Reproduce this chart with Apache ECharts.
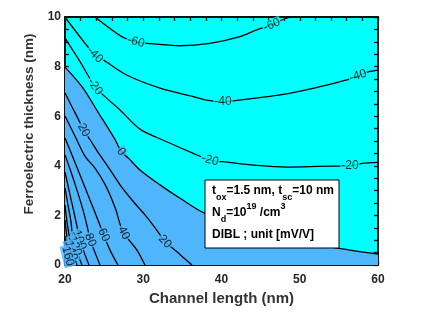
<!DOCTYPE html>
<html><head><meta charset="utf-8">
<script src="https://cdn.jsdelivr.net/npm/echarts@6/dist/echarts.min.js"></script>
<style>html,body{margin:0;padding:0;background:#fff}#c{width:422px;height:317px}</style>
</head><body><div id="c"></div>
<script>
// Axis ticks
const xTicks = [20, 30, 40, 50, 60];
const yTicks = [0, 2, 4, 6, 8, 10];

// Contour lines of DIBL (mV/V), points [channel length nm, ferroelectric thickness nm]
const c_m60 = [[23.83,10.0],[27.25,9.21],[29.07,9.00],[30.44,8.94],[34.70,8.84],[38.53,8.94],[42.36,9.21],[44.50,9.48],[46.42,9.68],[47.69,9.88],[48.75,10.0]];
const c_m40 = [[20.15,9.93],[22.56,8.94],[23.83,8.47],[24.89,8.27],[27.88,7.66],[32.14,7.13],[36.40,6.79],[38.11,6.65],[40.19,6.58],[41.51,6.62],[47.90,6.88],[52.59,7.19],[56.00,7.46],[57.44,7.63],[58.76,7.79],[60,7.86]];
const c_m20 = [[20.0,9.15],[21.92,8.20],[23.83,7.19],[24.89,6.85],[27.03,6.25],[29.58,5.48],[33.00,4.97],[36.40,4.50],[38.53,4.23],[40.03,4.17],[44.03,4.03],[48.37,3.95],[54.25,3.99],[56.42,3.99],[57.96,4.10],[60,4.14]];
const c_0   = [[20,7.98],[22.17,7.19],[24.31,6.12],[26.43,5.04],[27.19,4.57],[28.14,4.30],[29.58,3.83],[32.14,3.23],[34.70,2.69],[37.89,2.08],[43.64,1.49],[50.03,0.97],[55.02,0.67],[60,0.44]];
const c_20  = [[20,6.94],[20.89,6.38],[21.75,5.85],[22.39,5.44],[23.23,5.04],[24.31,4.50],[25.62,3.91],[27.03,3.23],[28.56,2.62],[30.22,2.02],[31.72,1.41],[32.78,0.94],[34.27,0.54],[36.23,0]];
const c_40  = [[20,6.01],[21.32,5.17],[22.59,4.37],[23.83,3.91],[25.15,3.23],[26.43,2.29],[27.07,1.61],[27.50,1.29],[28.35,0.94],[29.20,0.60],[30.22,0]];
const c_60  = [[20,5.12],[20.89,4.44],[21.92,3.63],[22.94,2.82],[23.96,2.02],[24.95,1.21],[25.75,0.60],[26.77,0]];
const c_80  = [[20,4.44],[20.77,3.75],[21.53,3.02],[22.30,2.22],[22.94,1.41],[23.23,1.01],[23.71,0.60],[24.47,0]];
const c_100 = [[20,3.75],[20.51,3.02],[21.02,2.30],[21.53,1.57],[21.92,1.01],[22.43,0.52],[23.07,0]];
const c_120 = [[20,3.10],[20.38,2.42],[20.77,1.73],[21.02,1.01],[21.53,0.52],[22.17,0]];
const c_140 = [[20,2.42],[20.26,1.73],[20.64,1.01],[21.02,0.48],[21.53,0]];
const c_160 = [[20,1.81],[20.26,1.09],[20.51,0.52],[20.89,0]];
const c_180 = [[20,1.17],[20.19,0.60],[20.51,0]];

// Contour labels
const labelText = ['-60','-60','-40','-40','-40','-20','-20','-20','0','20','20','40','60','80','100','120','140','160'];
const labelX    = [29.07,46.42,23.83,40.19,57.44,23.83,38.53,56.42,27.19,22.39,32.78,27.50,24.95,23.23,21.85,21.28,20.80,20.38];
const labelY    = [9.00,9.68,8.47,6.58,7.63,7.19,4.23,3.99,4.57,5.44,0.94,1.29,1.21,1.01,1.01,0.77,0.58,0.36];
const labelRot  = [-15,22,-45,0,18,-55,-16,0,-54,-60,-47,-62,-66,-68,-70,-72,-74,-76];

const CYAN = '#00FFFF', BLUE = '#50B6FC', INK = '#111';

const lines = [c_m60, c_m40, c_m20, c_20, c_40, c_60, c_80, c_100, c_120, c_140, c_160, c_180];

const axisCommon = {
  type: 'value',
  axisLine: { show: true, onZero: false, lineStyle: { color: INK, width: 2 } },
  axisTick: { show: true, inside: true, length: 4, lineStyle: { color: INK, width: 1.3 } },
  minorTick: { show: true, length: 4, lineStyle: { color: INK, width: 1.3 } },
  splitLine: { show: false },
  minorSplitLine: { show: false }
};
const FONT = 'Liberation Sans, Arial, sans-serif';
const labelFont = { fontFamily: FONT, fontWeight: 'bold', fontSize: 12, color: '#262626' };

const series = [];
series.push({
  type: 'line', data: c_0, smooth: 0.3, symbol: 'none', z: 2,
  lineStyle: { color: '#000', width: 1.3 },
  areaStyle: { color: BLUE, opacity: 1, origin: 'start' }
});
lines.forEach(function (d) {
  series.push({ type: 'line', data: d, smooth: 0.3, symbol: 'none', z: 3,
    lineStyle: { color: '#000', width: 1.3 } });
});
series.push({
  type: 'scatter', z: 10, symbolSize: 0, silent: true,
  data: labelText.map(function (t, i) {
    const neg = t.charAt(0) === '-';
    return {
      value: [labelX[i], labelY[i]],
      label: {
        show: true, position: 'inside', formatter: t, rotate: labelRot[i],
        fontFamily: FONT, fontSize: 12, color: '#000',
        backgroundColor: neg ? CYAN : BLUE, padding: [0, 1, 0, 1]
      }
    };
  })
});

const chart = echarts.init(document.getElementById('c'), null, { renderer: 'canvas' });
chart.setOption({
  animation: false,
  backgroundColor: '#fff',
  grid: { left: 65, right: 44, top: 17, bottom: 52, show: true, backgroundColor: CYAN, borderWidth: 0 },
  xAxis: [
    Object.assign({}, axisCommon, {
      position: 'bottom', min: xTicks[0], max: xTicks[xTicks.length - 1], interval: 10,
      minorTick: Object.assign({}, axisCommon.minorTick, { splitNumber: 5 }),
      axisLabel: Object.assign({ margin: 9 }, labelFont),
      name: 'Channel length (nm)', nameLocation: 'middle', nameGap: 25,
      nameTextStyle: { fontFamily: FONT, fontWeight: 'bold', fontSize: 15, color: '#333' }
    }),
    Object.assign({}, axisCommon, {
      position: 'top', min: xTicks[0], max: xTicks[xTicks.length - 1], interval: 10,
      minorTick: Object.assign({}, axisCommon.minorTick, { splitNumber: 5 }),
      axisLabel: { show: false }
    })
  ],
  yAxis: [
    Object.assign({}, axisCommon, {
      position: 'left', min: yTicks[0], max: yTicks[yTicks.length - 1], interval: 2,
      minorTick: Object.assign({}, axisCommon.minorTick, { splitNumber: 4 }),
      axisLabel: Object.assign({ margin: 4 }, labelFont),
      name: 'Ferroelectric thickness (nm)', nameLocation: 'middle', nameGap: 15,
      nameTextStyle: { fontFamily: FONT, fontWeight: 'bold', fontSize: 13.5, color: '#333', padding: [0, 0, 0, 34] }
    }),
    Object.assign({}, axisCommon, {
      position: 'right', min: yTicks[0], max: yTicks[yTicks.length - 1], interval: 2,
      minorTick: Object.assign({}, axisCommon.minorTick, { splitNumber: 4 }),
      axisLabel: { show: false }
    })
  ],
  series: series,
  graphic: [
    { type: 'rect', shape: { x: 205, y: 180, width: 134, height: 68 }, z: 100,
      style: { fill: '#fff', stroke: '#000', lineWidth: 1 } },
    { type: 'text', x: 212, y: 180, z: 101,
      style: {
        text: '{b|t}{s|ox}{b|=1.5 nm, t}{s|sc}{b|=10 nm}\n{b|N}{s|d}{b|=10}{p|19}{b| /cm}{p|3}\n{b|DIBL ; unit [mV/V]}',
        rich: {
          b: { fontFamily: FONT, fontWeight: 'bold', fontSize: 12, lineHeight: 22, verticalAlign: 'middle', fill: '#000' },
          s: { fontFamily: FONT, fontWeight: 'bold', fontSize: 9, lineHeight: 9, verticalAlign: 'bottom', fill: '#000' },
          p: { fontFamily: FONT, fontWeight: 'bold', fontSize: 9, lineHeight: 9, verticalAlign: 'top', fill: '#000' }
        }
      }
    }
  ]
});
</script></body></html>
